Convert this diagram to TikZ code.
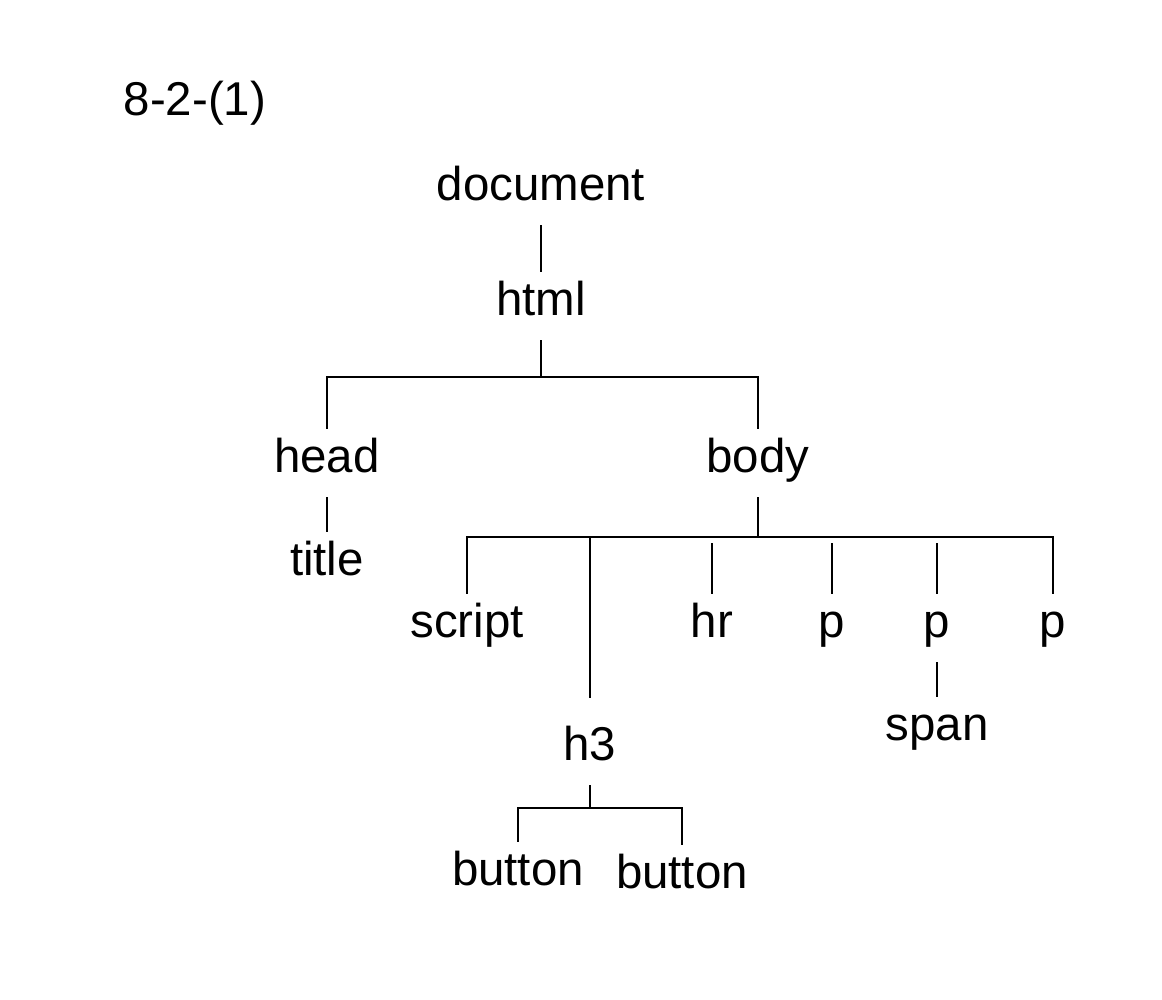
\documentclass[tikz,border=0pt]{standalone}
\usepackage{fontspec}
\setsansfont{Liberation Sans}
\begin{document}
\begin{tikzpicture}[
	tag/.style={font=\sffamily\fontsize{13.5}{16}\selectfont,inner sep=3pt,text height=0.75em,text depth=0.22em},
	branch/.style={thick,shorten >=0.06cm,shorten <=0.06cm}]
	\useasboundingbox (0,0) rectangle (11.62,10);
	\node at (1.95,8.94) [tag] (lbl) {8-2-(1)};
	\node at (5.41,8.09) [tag] (doc) {document};
	\node at (5.41,6.94) [tag] (html) {html};
	\node at (3.27,5.37) [tag] (head) {head};
	\node at (7.58,5.37) [tag] (body) {body};
	\node at (3.27,4.34) [tag] (title) {title};
	\node at (4.67,3.72) [tag] (script) {script};
	\node at (7.12,3.72) [tag] (hr) {hr};
	\node at (8.32,3.72) [tag] (pA) {p};
	\node at (9.37,3.72) [tag] (pB) {p};
	\node at (10.53,3.72) [tag] (pC) {p};
	\node at (9.37,2.69) [tag] (span) {span};
	\node at (5.90,2.49) [tag] (h3) {h3};
	\node at (5.18,1.24) [tag] (btnA) {button};
	\node at (6.82,1.21) [tag] (btnB) {button};
	\coordinate (hbar) at (5.46,6.23);
	\coordinate (bbar) at (7.55,4.63);
	\coordinate (h3bar) at (5.94,1.92);
	
	\draw [branch] (doc) -- (html);
	\draw [thick,shorten <=0.06cm] (html) -- (html |- hbar);
	\draw [branch] (head) |- (hbar) -| (body);
	\draw [branch] (head) -- (title);
	
	\draw [thick,shorten <=0.06cm] (body) -- (body |- bbar);
	\draw [branch] (script) |- (bbar) -| (pC);
	\draw [thick,shorten <=0.25cm] (h3) -- (h3 |- bbar);
	\draw [branch] (hr) -- (hr |- bbar);
	\draw [branch] (pA) -- (pA |- bbar);
	\draw [branch] (pB) -- (pB |- bbar);
	\draw [branch] (pB) -- (span);
	
	\draw [thick,shorten <=0.06cm] (h3) -- (h3 |- h3bar);
	\draw [branch] (btnA) |- (h3bar) -| (btnB);
\end{tikzpicture}
\end{document}
